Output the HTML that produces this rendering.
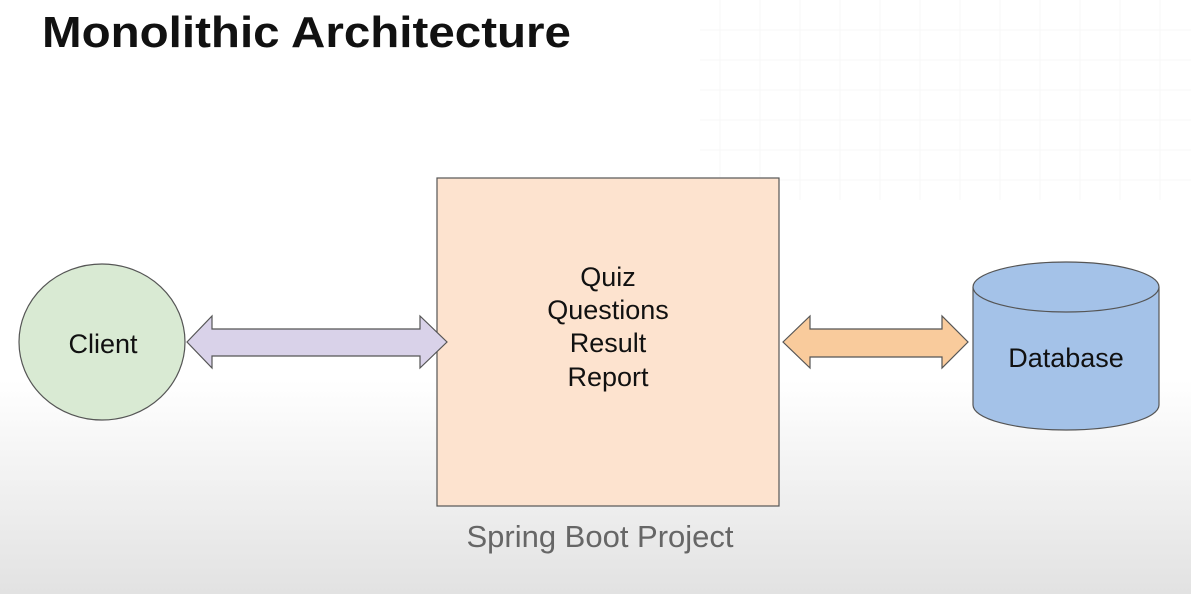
<!DOCTYPE html>
<html><head><style>
html,body{margin:0;padding:0;}
body{width:1191px;height:594px;overflow:hidden;background:linear-gradient(#fff 0,#fff 380px,#e2e2e2 594px);font-family:"Liberation Sans",sans-serif;}
</style></head><body>
<svg width="1191" height="594" viewBox="0 0 1191 594" xmlns="http://www.w3.org/2000/svg">
<g stroke="#f7f7f7" stroke-width="1">
<path d="M700 30H1191M700 60H1191M700 90H1191M700 120H1191M700 150H1191M700 180H1191"/>
<path d="M720 0V200M760 0V200M800 0V200M840 0V200M880 0V200M920 0V200M960 0V200M1000 0V200M1040 0V200M1080 0V200M1120 0V200M1160 0V200"/>
</g>
<text x="42" y="47" font-size="44" font-weight="bold" fill="#111" textLength="529" lengthAdjust="spacingAndGlyphs">Monolithic Architecture</text>
<ellipse cx="102" cy="342" rx="83" ry="78" fill="#d9ead3" stroke="#555" stroke-width="1.2"/>
<text x="103" y="353" font-size="27" text-anchor="middle" fill="#111">Client</text>
<rect x="437" y="178" width="342" height="328" fill="#fde3cf" stroke="#555" stroke-width="1.2"/>
<path d="M187 342 L212 316 L212 329 L420 329 L420 316 L447 342 L420 368 L420 356 L212 356 L212 368 Z" fill="#d9d2e9" stroke="#555" stroke-width="1.2"/>
<g font-size="27" text-anchor="middle" fill="#111">
<text x="608" y="286">Quiz</text>
<text x="608" y="319">Questions</text>
<text x="608" y="352">Result</text>
<text x="608" y="386">Report</text>
</g>
<path d="M783 342 L810 316 L810 329 L942 329 L942 316 L968 342 L942 368 L942 357 L810 357 L810 368 Z" fill="#f9cb9c" stroke="#555" stroke-width="1.2"/>
<path d="M973 287 L973 405 A93 25 0 0 0 1159 405 L1159 287" fill="#a4c2e8" stroke="#555" stroke-width="1.2"/>
<ellipse cx="1066" cy="287" rx="93" ry="25" fill="#a4c2e8" stroke="#555" stroke-width="1.2"/>
<text x="1066" y="367" font-size="27" text-anchor="middle" fill="#111">Database</text>
<text x="600" y="547" font-size="31" text-anchor="middle" fill="#666">Spring Boot Project</text>
</svg>
</body></html>
